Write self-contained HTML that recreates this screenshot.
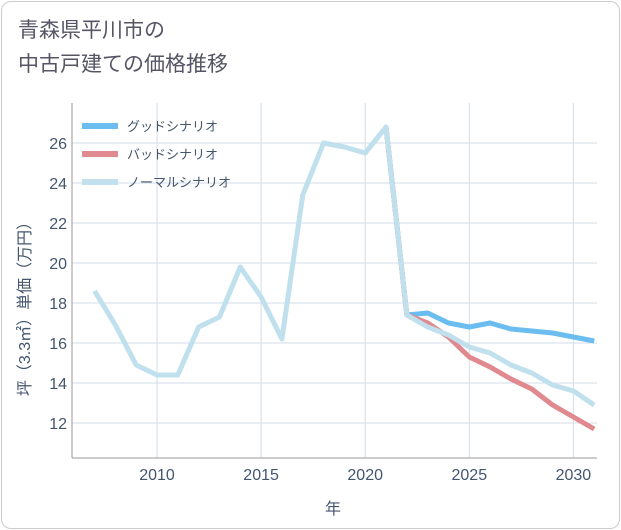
<!DOCTYPE html>
<html><head><meta charset="utf-8"><style>
body{margin:0;background:#fff;}
#wrap{position:relative;width:621px;height:530px;font-family:"Liberation Sans","Noto Sans CJK JP",sans-serif;}
#frame{position:absolute;left:1px;top:1px;width:617px;height:526px;border:1px solid #ccc;border-radius:10px;}
#title{position:absolute;left:18px;top:14px;font-size:21px;line-height:34px;color:#556;}
</style></head><body>
<div id="wrap">
<div id="frame"></div>
<div id="title">青森県平川市の<br>中古戸建ての価格推移</div>
<svg id="chart" width="621" height="530" style="position:absolute;left:0;top:0"></svg>
</div>
<script>
const years=[2007,2008,2009,2010,2011,2012,2013,2014,2015,2016,2017,2018,2019,2020,2021,2022,2023,2024,2025,2026,2027,2028,2029,2030,2031];
const normalVals=[18.6,16.9,14.9,14.4,14.4,16.8,17.3,19.8,18.3,16.2,23.4,26.0,25.8,25.5,26.8,17.4,16.8,16.4,15.8,15.5,14.9,14.5,13.9,13.6,12.9];
const futureYears=[2021,2022,2023,2024,2025,2026,2027,2028,2029,2030,2031];
const goodVals=[26.8,17.4,17.5,17.0,16.8,17.0,16.7,16.6,16.5,16.3,16.1];
const badVals=[26.8,17.4,17.0,16.3,15.3,14.8,14.2,13.7,12.9,12.3,11.7];
const xTicks=[2010,2015,2020,2025,2030];
const yTicks=[12,14,16,18,20,22,24,26];
const legendLabels=['グッドシナリオ','バッドシナリオ','ノーマルシナリオ'];
const colors=['#6bbdf0','#e08a90','#bfe0ec'];

const L=72,R=597,T=103,B=458;
const TXT='#44566e';
const x=v=>157+(v-2010)*20.82;
const y=v=>143+(26-v)*20;
const svg=document.getElementById('chart');
const NS='http://www.w3.org/2000/svg';
function mk(tag,attrs,parent){const e=document.createElementNS(NS,tag);for(const k in attrs)e.setAttribute(k,attrs[k]);(parent||svg).appendChild(e);return e;}

for(const t of xTicks){
  const g=mk('line',{x1:x(t),x2:x(t),y1:T,y2:B,stroke:'#d3dde8','stroke-width':1});
  
  
  const tx=mk('text',{x:x(t),y:B+22,'text-anchor':'middle','font-size':16,fill:TXT});
  tx.textContent=t;
  
  
}
for(const t of yTicks){
  const g=mk('line',{x1:L,x2:R,y1:y(t),y2:y(t),stroke:'#d3dde8','stroke-width':1});
  
  
  const tx=mk('text',{x:L-5,y:y(t)+6,'text-anchor':'end','font-size':16,fill:TXT});
  tx.textContent=t;
  
  
}
const ax=mk('line',{x1:L,x2:L,y1:T,y2:B,stroke:'#999'});


const bx=mk('line',{x1:L,x2:R,y1:B,y2:B,stroke:'#999'});



function series(xs,vs,c,name){
  const p=mk('polyline',{points:xs.map((v,i)=>x(v)+','+y(vs[i])).join(' '),fill:'none',stroke:c,'stroke-width':5,'stroke-linejoin':'round'});
  
  
}
series(futureYears,goodVals,colors[0],'good-scenario-line');
series(futureYears,badVals,colors[1],'bad-scenario-line');
series(years,normalVals,colors[2],'normal-scenario-line');

legendLabels.forEach((lab,i)=>{
  const ly=126+i*28;
  const s=mk('line',{x1:82,x2:118,y1:ly,y2:ly,stroke:colors[i],'stroke-width':6});
  
  
  const t=mk('text',{x:127,y:ly+5,'font-size':13,fill:TXT});
  t.textContent=lab;
  
  
});

const xt=mk('text',{x:333,y:514,'text-anchor':'middle','font-size':16,fill:TXT});
xt.textContent='年';


const yt=mk('text',{x:0,y:0,'text-anchor':'middle','font-size':16,fill:TXT,transform:'translate(30,305) rotate(-90)'});
yt.textContent='坪（3.3㎡）単価（万円）';


</script>
</body></html>
